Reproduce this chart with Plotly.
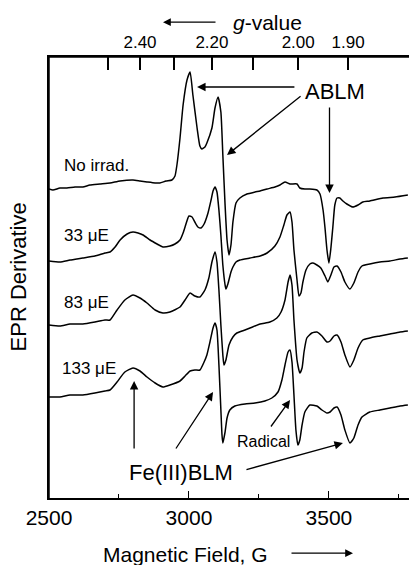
import plotly.graph_objects as go

FONT = "Liberation Sans, Arial, Helvetica, sans-serif"

# ---- data (magnetic field in G, stacked EPR derivative in arbitrary units) ----
field_noirr = [2500, 2514, 2539, 2564, 2593, 2621, 2646, 2682, 2718, 2754, 2800, 2825, 2850, 2879, 2896,
               2918, 2939, 2950, 2957, 2968, 2979, 2993, 3004, 3014, 3029, 3039, 3046, 3057, 3064, 3082,
               3093, 3104, 3114, 3121, 3129, 3136, 3143, 3150, 3157, 3168, 3182, 3207, 3236, 3254, 3279,
               3307, 3325, 3343, 3361, 3386, 3396, 3414, 3432, 3457, 3468, 3479, 3486, 3493, 3500, 3507,
               3514, 3521, 3529, 3539, 3550, 3564, 3586, 3604, 3621, 3646, 3693, 3736, 3782]
epr_noirr = [309, 308, 310, 310, 311, 311, 313, 314, 315, 317, 318, 317, 316, 315, 315,
             317, 318, 322, 333, 360, 393, 418, 426, 403, 370, 352, 349, 351, 355, 370,
             390, 401, 386, 343, 293, 258, 243, 253, 276, 295, 300, 304, 306, 307, 309,
             311, 313, 316, 314, 314, 310, 309, 309, 308, 304, 288, 270, 248, 235, 250,
             271, 293, 300, 300, 297, 294, 291, 293, 296, 297, 300, 301, 303]

field_33 = [2500, 2539, 2575, 2621, 2664, 2700, 2718, 2736, 2754, 2779, 2800, 2818, 2836, 2861, 2886,
            2907, 2932, 2950, 2968, 2979, 2986, 3000, 3011, 3021, 3032, 3043, 3054, 3068, 3079, 3086,
            3093, 3100, 3107, 3114, 3121, 3129, 3132, 3139, 3150, 3157, 3168, 3182, 3218, 3254, 3279,
            3307, 3325, 3339, 3350, 3361, 3368, 3375, 3386, 3393, 3400, 3407, 3418, 3432, 3443, 3457,
            3471, 3486, 3496, 3507, 3518, 3529, 3543, 3557, 3575, 3589, 3604, 3618, 3646, 3682, 3718,
            3754, 3782]
epr_33 = [237, 236, 238, 240, 242, 245, 246, 251, 258, 264, 266, 265, 263, 258, 254,
          251, 252, 254, 258, 265, 271, 282, 281, 276, 271, 270, 274, 285, 298, 307,
          311, 306, 288, 263, 233, 213, 209, 214, 226, 231, 236, 238, 240, 242, 245,
          252, 261, 273, 283, 286, 276, 248, 218, 202, 205, 216, 228, 234, 235, 233,
          230, 222, 216, 223, 231, 232, 226, 216, 209, 215, 226, 232, 234, 236, 237,
          239, 240]

field_83 = [2500, 2539, 2575, 2621, 2664, 2700, 2718, 2743, 2771, 2800, 2825, 2850, 2879, 2907, 2932,
            2968, 2986, 3004, 3021, 3039, 3057, 3071, 3082, 3093, 3100, 3107, 3114, 3121, 3125, 3132,
            3143, 3157, 3171, 3200, 3218, 3254, 3289, 3314, 3329, 3343, 3354, 3361, 3368, 3375, 3386,
            3396, 3404, 3411, 3421, 3439, 3457, 3475, 3493, 3504, 3518, 3529, 3543, 3557, 3575, 3589,
            3604, 3621, 3646, 3682, 3718, 3754, 3782]
epr_83 = [173, 172, 174, 174, 176, 178, 178, 188, 198, 203, 200, 195, 188, 185, 186,
          191, 198, 205, 202, 201, 208, 220, 236, 246, 236, 208, 173, 143, 133, 138,
          153, 161, 165, 168, 170, 174, 176, 180, 186, 198, 216, 223, 213, 178, 138,
          125, 130, 146, 160, 165, 166, 162, 156, 157, 162, 163, 156, 143, 131, 138,
          150, 158, 160, 162, 164, 166, 167]

field_133 = [2500, 2539, 2575, 2621, 2664, 2700, 2718, 2743, 2771, 2800, 2825, 2850, 2879, 2907, 2932,
             2968, 2986, 3004, 3021, 3039, 3054, 3064, 3075, 3086, 3093, 3100, 3107, 3114, 3118, 3121,
             3129, 3136, 3146, 3164, 3200, 3236, 3271, 3296, 3318, 3332, 3343, 3354, 3361, 3368, 3375,
             3382, 3389, 3396, 3404, 3414, 3432, 3457, 3475, 3493, 3504, 3518, 3529, 3543, 3557, 3575,
             3589, 3604, 3618, 3646, 3682, 3718, 3754, 3782]
epr_133 = [101, 101, 103, 103, 105, 107, 108, 116, 126, 130, 127, 121, 115, 111, 113,
           117, 122, 127, 128, 128, 136, 143, 156, 170, 175, 168, 133, 88, 63, 55,
           66, 80, 88, 92, 94, 95, 97, 100, 106, 118, 133, 146, 148, 136, 103,
           68, 53, 58, 73, 86, 93, 92, 88, 85, 86, 90, 91, 83, 68, 55,
           60, 73, 81, 86, 88, 90, 92, 93]

series_labels = ["No irrad.", "33 μE", "83 μE", "133 μE"]
label_field = [2546, 2546, 2546, 2539]
label_level = [333, 263, 196, 130]

# top axis: g-values at X-band frequency
mw_freq_ghz = 9.49
g_ticks = [2.50, 2.40, 2.30, 2.20, 2.10, 2.00, 1.90]
g_ticktext = ["", "2.40", "", "2.20", "", "2.00", "1.90"]
field_ticks = [714.48 * mw_freq_ghz / g for g in g_ticks]

x_range = [2500, 3786]
y_range = [0, 441]

fig = go.Figure()
for fx, ey in [(field_noirr, epr_noirr), (field_33, epr_33), (field_83, epr_83), (field_133, epr_133)]:
    fig.add_trace(go.Scatter(x=fx, y=ey, mode="lines",
                             line=dict(color="black", width=1.5, shape="spline", smoothing=0.5),
                             showlegend=False, hoverinfo="skip"))
# invisible trace for top axis
fig.add_trace(go.Scatter(x=x_range, y=[0, 0], xaxis="x2", yaxis="y", mode="lines",
                         line=dict(width=0), showlegend=False, hoverinfo="skip"))

ann = []
for t, fx, lv in zip(series_labels, label_field, label_level):
    ann.append(dict(x=fx, y=lv, xref="x", yref="y", text=t, showarrow=False,
                    xanchor="left", yanchor="middle", font=dict(size=17, family=FONT, color="black")))

ann.append(dict(x=3521, y=407, xref="x", yref="y", text="ABLM", showarrow=False,
                xanchor="center", yanchor="middle",
                font=dict(size=22, family=FONT, color="black")))
ann.append(dict(x=2971, y=26, xref="x", yref="y", text="Fe(III)BLM", showarrow=False,
                xanchor="center", yanchor="middle",
                font=dict(size=22, family=FONT, color="black")))
ann.append(dict(x=3268, y=57, xref="x", yref="y", text="Radical", showarrow=False,
                xanchor="center", yanchor="middle",
                font=dict(size=16, family=FONT, color="black")))

arrows = [
    (3029, 411, 3382, 411),
    (3136, 343, 3404, 403),
    (3502, 305, 3502, 392),
    (2804, 117, 2804, 48),
    (3086, 106, 2950, 48),
    (3550, 55, 3200, 28),
    (3361, 98, 3289, 70),
]
for hx, hy, tx, ty in arrows:
    ann.append(dict(x=hx, y=hy, ax=tx, ay=ty, xref="x", yref="y", axref="x", ayref="y",
                    text="", showarrow=True, arrowhead=2, arrowsize=1.3, arrowwidth=1.3,
                    arrowcolor="black"))

# axis titles and direction arrows
ann.append(dict(x=0.608, y=1.079, xref="paper", yref="paper", text="<i>g</i>-value",
                xanchor="center", yanchor="middle",
                showarrow=False, font=dict(size=21, family=FONT, color="black")))
ann.append(dict(x=(163 - 49) / 360, y=1.079, xref="paper", yref="paper", text="",
                showarrow=True, ax=54, ay=0, arrowhead=2, arrowsize=1.2, arrowwidth=1.3,
                arrowcolor="black"))
ann.append(dict(x=0.378, y=-0.129, xref="paper", yref="paper", text="Magnetic Field, G",
                xanchor="center", yanchor="middle",
                showarrow=False, font=dict(size=21, family=FONT, color="black")))
ann.append(dict(x=(353 - 49) / 360, y=-0.125, xref="paper", yref="paper", text="",
                showarrow=True, ax=-63, ay=0, arrowhead=2, arrowsize=1.2, arrowwidth=1.3,
                arrowcolor="black"))
ann.append(dict(x=-0.085, y=0.501, xref="paper", yref="paper", text="EPR Derivative",
                xanchor="center", yanchor="middle",
                showarrow=False, textangle=-90, font=dict(size=22, family=FONT, color="black")))

# frame lines (top and left) of the plot area
frame = [
    dict(type="line", xref="paper", yref="paper", x0=0, x1=1, y0=1, y1=1,
         line=dict(color="black", width=1.5), layer="above"),
    dict(type="line", xref="paper", yref="paper", x0=0, x1=0, y0=0, y1=1,
         line=dict(color="black", width=1.5), layer="above"),
]

fig.update_layout(
    width=409, height=565,
    margin=dict(l=49, r=0, t=57, b=67, pad=0, autoexpand=False),
    paper_bgcolor="white", plot_bgcolor="white",
    font=dict(family=FONT, color="black"),
    xaxis=dict(range=x_range, showline=True, linecolor="black", linewidth=1.5, mirror=False,
               ticks="inside", ticklen=7, tickwidth=1.3, tickcolor="black",
               tick0=2500, dtick=500, showgrid=False, zeroline=False, automargin=False,
               minor=dict(ticks="inside", ticklen=4, tickwidth=1.3, tickcolor="black", dtick=250, tick0=2500),
               tickfont=dict(size=21, family=FONT, color="black")),
    xaxis2=dict(range=x_range, overlaying="x", side="top", anchor="y", showline=True, linecolor="black",
                linewidth=1.5, ticks="inside", ticklen=13, tickwidth=1.5, tickcolor="black",
                tickmode="array", tickvals=field_ticks, ticktext=g_ticktext,
                showgrid=False, zeroline=False, automargin=False, layer="above traces",
                tickfont=dict(size=17, family=FONT, color="black")),
    yaxis=dict(range=y_range, showline=True, linecolor="black", linewidth=1.5, automargin=False,
               showticklabels=False, ticks="", showgrid=False, zeroline=False),
    shapes=frame,
)
fig.update_layout(annotations=ann)

fig.write_html("out.html")
